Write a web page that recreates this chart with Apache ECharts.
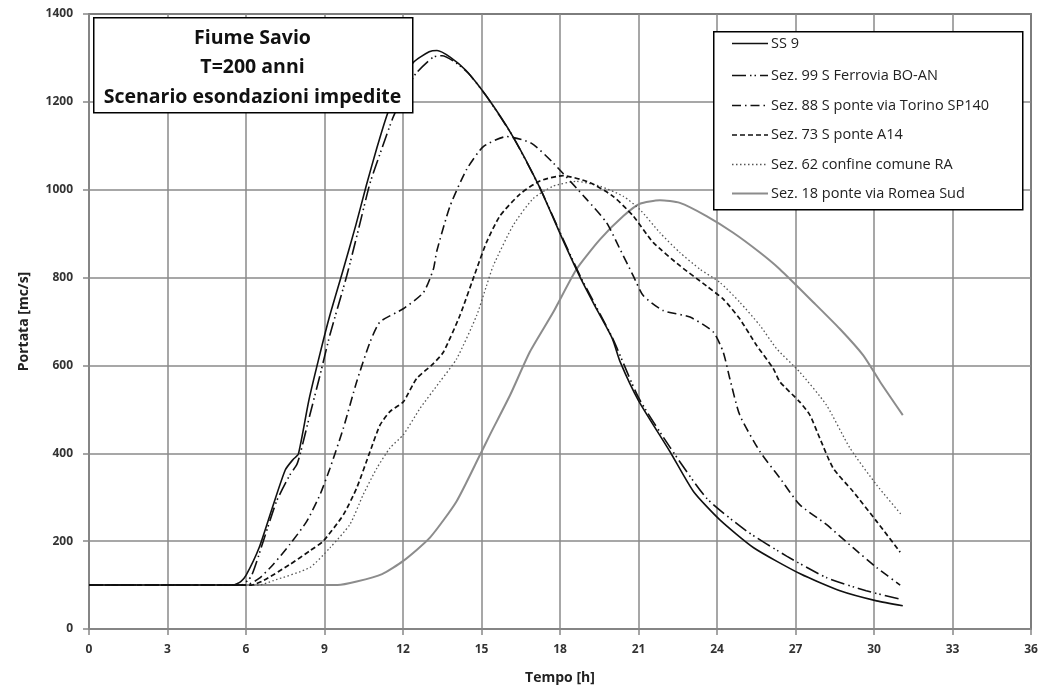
<!DOCTYPE html>
<html>
<head>
<meta charset="utf-8">
<script src="https://cdn.jsdelivr.net/npm/echarts@6/dist/echarts.min.js"></script>
<style>html,body{margin:0;padding:0;background:#fff}#c{width:1050px;height:690px}</style>
</head>
<body>
<div id="c"></div>
<script>
var xTicks = [0, 36, 3];
var yTicks = [0, 1400, 200];
var seriesNames = ['SS 9', 'Sez. 99 S Ferrovia BO-AN', 'Sez. 88 S ponte via Torino SP140', 'Sez. 73 S ponte A14', 'Sez. 62 confine comune RA', 'Sez. 18 ponte via Romea Sud'];

var ss9 = [[0,100],[5.5,100],[5.8,108],[6,122],[6.5,185],[7,275],[7.5,362],[7.8,386],[8,398],[8.4,520],[8.8,620],[9.2,713],[9.7,815],[10.2,920],[10.6,1010],[11,1095],[11.4,1172],[11.8,1230],[12.4,1290],[13.0,1314],[13.3,1317],[13.8,1302],[14.4,1272],[15.2,1212],[16.2,1121],[17.2,1008],[18.1,887],[18.8,797],[19.4,728],[20.0,661],[20.3,608],[21.0,520],[22.2,404],[23.1,313],[24.1,249],[25.4,185],[27.2,125],[28.7,87],[30.1,64],[31.1,53]];
var sez99 = [[0,100],[5.8,100],[6.2,120],[6.66,200],[7.17,291],[7.68,351],[7.94,374],[8.06,396],[8.44,487],[8.83,578],[9.2,668],[9.85,804],[10.3,910],[10.74,1015],[11.2,1095],[11.63,1166],[12.1,1225],[12.5,1265],[13.16,1302],[13.5,1305],[14.0,1290],[14.5,1265],[15.2,1212],[16.2,1121],[17.2,1008],[18.1,890],[18.8,800],[20.0,663],[21.0,527],[22.2,414],[23.6,298],[25.13,223],[26.66,166],[28.18,117],[29.7,87],[31.0,68]];
var sez88 = [[0,100],[6.0,100],[6.5,115],[7.04,147],[7.68,193],[8.32,245],[8.83,306],[9.21,366],[9.72,457],[10.23,563],[10.74,653],[11.12,699],[12.01,729],[12.78,766],[13.16,819],[13.29,860],[13.8,963],[14.43,1046],[15.07,1098],[15.96,1121],[16.9,1106],[17.74,1061],[19.02,978],[19.78,925],[20.29,865],[20.8,804],[21.18,759],[21.94,725],[22.97,710],[23.86,676],[24.24,630],[24.49,570],[24.87,487],[25.64,404],[26.4,344],[27.16,283],[28.18,238],[29.2,185],[30.1,140],[31.0,100]];
var sez73 = [[0,100],[6.2,100],[6.66,110],[7.68,147],[8.44,178],[8.95,200],[9.72,260],[10.23,321],[10.74,404],[11.12,464],[11.5,495],[12.01,517],[12.52,570],[13.16,604],[13.54,630],[14.17,713],[14.81,819],[15.19,880],[15.7,940],[16.47,990],[17.23,1020],[18.12,1032],[19.15,1016],[20.03,985],[20.8,940],[21.56,880],[22.58,827],[23.6,781],[24.24,751],[24.87,706],[25.51,646],[26.15,593],[26.4,563],[27.16,517],[27.55,487],[27.93,434],[28.44,366],[29.2,313],[30.1,245],[31.0,175]];
var sez62 = [[0,100],[6.5,100],[7.04,110],[8.44,140],[9.21,185],[9.97,238],[10.48,306],[11.0,366],[11.5,412],[12.01,442],[12.65,502],[13.41,563],[14.05,615],[14.81,713],[15.19,781],[15.45,827],[16.22,920],[16.98,980],[17.74,1008],[18.63,1019],[19.53,1008],[20.42,985],[21.05,955],[21.82,902],[22.58,857],[23.35,819],[24.11,789],[24.87,744],[25.64,691],[26.28,638],[27.16,585],[28.18,510],[29.08,412],[30.1,328],[31.05,260]];
var sez18 = [[0,100],[9.5,100],[10.23,108],[11.2,125],[12.01,155],[13.03,208],[14.05,291],[14.94,396],[15.32,442],[16.09,532],[16.85,631],[17.74,721],[18.63,819],[19.53,887],[20.42,940],[21.05,968],[21.82,976],[22.58,970],[23.6,940],[24.62,902],[25.64,857],[26.4,819],[27.68,744],[28.7,683],[29.59,623],[30.23,563],[31.1,487]];
var titleLines = ['Fiume Savio', 'T=200 anni', 'Scenario esondazioni impedite'];
var xName = 'Tempo [h]';
var yName = 'Portata [mc/s]';

var allData = [ss9, sez99, sez88, sez73, sez62, sez18];
var styles = [
  {color:'#111', width:1.6, type:'solid'},
  {color:'#111', width:1.6, type:[14,4,1.5,3,1.5,4]},
  {color:'#111', width:1.6, type:[9,4,1.5,4]},
  {color:'#111', width:1.7, type:[5,3]},
  {color:'#555', width:1.3, type:[1.5,2.5]},
  {color:'#8c8c8c', width:2, type:'solid'}
];
var FONT = 'Open Sans';
var chart = echarts.init(document.getElementById('c'));
var series = allData.map(function(d, i){
  return {
    name: seriesNames[i], type:'line', data:d, symbol:'none', smooth:0.2,
    lineStyle:{color:styles[i].color, width:styles[i].width, type:styles[i].type},
    itemStyle:{color:styles[i].color}, emphasis:{disabled:true}, animation:false, z: 2 + (5 - i)
  };
});
var graphics = [
  {type:'rect', left:713, top:31, shape:{width:309, height:178}, style:{fill:'#fff', stroke:'#000', lineWidth:1.5}, z:50},
  {type:'rect', left:93, top:17, shape:{width:319, height:95}, style:{fill:'#fff', stroke:'#000', lineWidth:1.5}, z:50}
];
titleLines.forEach(function(t, i){
  graphics.push({type:'text', x:252.5, y:38 + i*29.5, z:51, style:{text:t, fill:'#111', font:'bold 19.5px "' + FONT + '"', textAlign:'center', textVerticalAlign:'middle'}});
});
var legendY = [43.5, 75.5, 105.5, 135, 164.5, 193.5];
seriesNames.forEach(function(n, i){
  var st = styles[i];
  graphics.push({type:'line', z:51, shape:{x1:732, y1:legendY[i], x2:768, y2:legendY[i]},
    style:{stroke:st.color, lineWidth:st.width, lineDash: st.type === 'solid' ? null : st.type}});
  graphics.push({type:'text', x:771, y:legendY[i], z:51, style:{text:n, fill:'#222', font:'14.5px "' + FONT + '"', textAlign:'left', textVerticalAlign:'middle'}});
});
chart.setOption({
  animation:false,
  backgroundColor:'#fff',
  grid:{left:89, right:19, top:14, bottom:58, show:true, borderColor:'#222', borderWidth:1.5},
  xAxis:{
    type:'value', min:xTicks[0], max:xTicks[1], interval:xTicks[2],
    name:xName, nameLocation:'middle', nameGap:42,
    nameTextStyle:{fontSize:14, fontWeight:'bold', fontFamily:FONT, color:'#222'},
    axisLine:{lineStyle:{color:'#888', width:1.5}},
    axisTick:{show:true, inside:false, length:6, lineStyle:{color:'#888', width:1.5}},
    axisLabel:{margin:15, fontSize:12, fontWeight:'bold', fontFamily:FONT, color:'#333'},
    splitLine:{show:true, lineStyle:{color:'#8a8a8a', width:1.5}}
  },
  yAxis:{
    type:'value', min:yTicks[0], max:yTicks[1], interval:yTicks[2],
    name:yName, nameLocation:'middle', nameGap:58,
    nameTextStyle:{fontSize:14, fontWeight:'bold', fontFamily:FONT, color:'#222'},
    axisLine:{show:true, lineStyle:{color:'#888', width:1.5}},
    axisTick:{show:true, inside:false, length:6, lineStyle:{color:'#888', width:1.5}},
    axisLabel:{margin:16, fontSize:12, fontWeight:'bold', fontFamily:FONT, color:'#333', formatter:function(v){return String(v);}},
    splitLine:{show:true, lineStyle:{color:'#8a8a8a', width:1.5}}
  },
  graphic: graphics,
  series: series
});
</script>
</body>
</html>
